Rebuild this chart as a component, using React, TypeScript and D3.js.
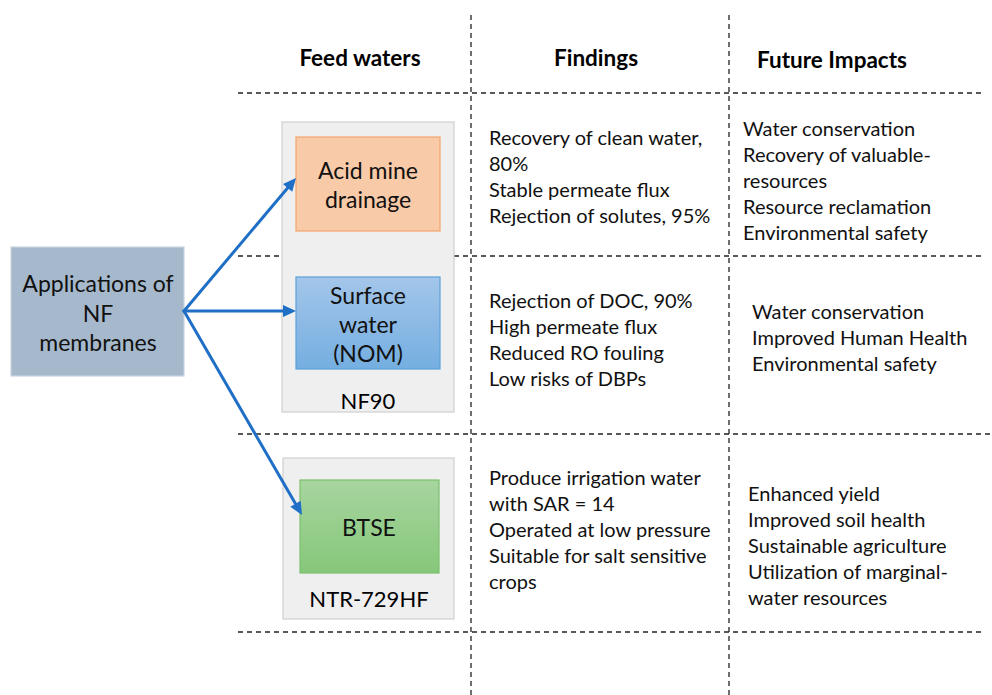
import React from "react";
import * as d3 from "d3";

// ---- data ----
const headers = ["Feed waters", "Findings", "Future Impacts"];
const sourceLabel = ["Applications of", "NF", "membranes"];
const feedWaters = [["Acid mine", "drainage"], ["Surface", "water", "(NOM)"], ["BTSE"]];
const membranes = ["NF90", "NTR-729HF"];
const findingsRow1 = ["Recovery of clean water,", "80%", "Stable permeate flux", "Rejection of solutes, 95%"];
const findingsRow2 = ["Rejection of DOC, 90%", "High permeate flux", "Reduced RO fouling", "Low risks of DBPs"];
const findingsRow3 = ["Produce irrigation water", "with SAR = 14", "Operated at low pressure", "Suitable for salt sensitive", "crops"];
const impactsRow1 = ["Water conservation", "Recovery of valuable-", "resources", "Resource reclamation", "Environmental safety"];
const impactsRow2 = ["Water conservation", "Improved Human Health", "Environmental safety"];
const impactsRow3 = ["Enhanced yield", "Improved soil health", "Sustainable agriculture", "Utilization of marginal-", "water resources"];

const FONT = "Lato, 'Open Sans', sans-serif";
const W = 992, H = 695;

// layout
const colX = [471, 729];
const rowY = [93, 256, 434, 632];
const rowEnd = [982, 982, 990, 982];
const lineH = 26;
const BODY = 20;
const BOX = 23;
const HEAD = 22.5;

function Lines({ lines, x, y0, size, anchor = "start", weight = 400, lh = lineH }) {
  return (
    <>
      {lines.map((t, i) => (
        <text key={i} x={x} y={y0 + i * lh} fontSize={size} fontWeight={weight} fontFamily={FONT}
          textAnchor={anchor} dominantBaseline="central" fill="#111">{t}</text>
      ))}
    </>
  );
}

export default function App() {
  const arrowColor = "#1f6fc6";
  const src: [number, number] = [184, 311];
  const targets: [number, number][] = [[296, 178], [296, 311], [302, 515]];
  const lineGen = d3.line();

  const heads = targets.map(([tx, ty]) => {
    const ang = Math.atan2(ty - src[1], tx - src[0]);
    const L = 13, Wd = 6;
    const bx = tx - L * Math.cos(ang), by = ty - L * Math.sin(ang);
    const px = -Math.sin(ang) * Wd, py = Math.cos(ang) * Wd;
    return { line: lineGen([src, [bx, by]]), head: lineGen([[tx, ty], [bx + px, by + py], [bx - px, by - py]]) + "Z" };
  });

  return (
    <svg width={W} height={H} style={{ position: "absolute", left: 0, top: 0, background: "#fff" }}>
      <defs>
        <linearGradient id="gBlue" x1="0" y1="0" x2="0" y2="1">
          <stop offset="0" stopColor="#a4c6ea" />
          <stop offset="1" stopColor="#74aee0" />
        </linearGradient>
        <linearGradient id="gGreen" x1="0" y1="0" x2="0" y2="1">
          <stop offset="0" stopColor="#a7d59f" />
          <stop offset="1" stopColor="#86c77a" />
        </linearGradient>
      </defs>
      <rect x={0} y={0} width={W} height={H} fill="#fff" />

      {colX.map((x, i) => (
        <line key={"v" + i} x1={x} x2={x} y1={15} y2={695} stroke="#222" strokeWidth={1.3} strokeDasharray="5,4" />
      ))}
      {rowY.map((y, i) => (
        <line key={"h" + i} x1={238} x2={rowEnd[i]} y1={y} y2={y} stroke="#222" strokeWidth={1.3} strokeDasharray="5,4" />
      ))}

      <text x={360} y={57} fontSize={HEAD} fontWeight={700} fontFamily={FONT} textAnchor="middle" dominantBaseline="central">{headers[0]}</text>
      <text x={596} y={57} fontSize={HEAD} fontWeight={700} fontFamily={FONT} textAnchor="middle" dominantBaseline="central">{headers[1]}</text>
      <text x={832} y={59} fontSize={HEAD} fontWeight={700} fontFamily={FONT} textAnchor="middle" dominantBaseline="central">{headers[2]}</text>

      <rect x={282} y={122} width={172} height={290} fill="#efefef" stroke="#cfcfcf" strokeWidth={1.2} />
      <rect x={283} y={458} width={171} height={161} fill="#efefef" stroke="#cfcfcf" strokeWidth={1.2} />

      <rect x={296} y={137} width={144} height={94} fill="#f9caa8" stroke="#f4a46c" strokeWidth={1.2} />
      <rect x={296} y={277} width={144} height={92} fill="url(#gBlue)" stroke="#5ea0d8" strokeWidth={1.2} />
      <rect x={300} y={480} width={139} height={93} fill="url(#gGreen)" stroke="#7cc06e" strokeWidth={1.2} />

      <Lines lines={feedWaters[0]} x={368} y0={170} size={BOX} anchor="middle" lh={29} />
      <Lines lines={feedWaters[1]} x={368} y0={295} size={BOX} anchor="middle" lh={29} />
      <Lines lines={feedWaters[2]} x={369} y0={527} size={BOX} anchor="middle" />
      <text x={368} y={400} fontSize={22} fontFamily={FONT} textAnchor="middle" dominantBaseline="central">{membranes[0]}</text>
      <text x={369} y={598} fontSize={22} fontFamily={FONT} textAnchor="middle" dominantBaseline="central">{membranes[1]}</text>

      <rect x={11} y={247} width={173} height={129} fill="#a6b9cc" stroke="#c9d4df" strokeWidth={1.2} />
      <Lines lines={sourceLabel} x={98} y0={283} size={BOX} anchor="middle" lh={29.5} />

      {heads.map((h, i) => (
        <g key={"a" + i}>
          <path d={h.line} stroke={arrowColor} strokeWidth={3} fill="none" strokeLinecap="round" />
          <path d={h.head} fill={arrowColor} />
        </g>
      ))}

      <Lines lines={findingsRow1} x={489} y0={137} size={BODY} />
      <Lines lines={findingsRow2} x={489} y0={300} size={BODY} />
      <Lines lines={findingsRow3} x={489} y0={477} size={BODY} />
      <Lines lines={impactsRow1} x={743} y0={128} size={BODY} />
      <Lines lines={impactsRow2} x={752} y0={311} size={BODY} />
      <Lines lines={impactsRow3} x={748} y0={493} size={BODY} />
    </svg>
  );
}
